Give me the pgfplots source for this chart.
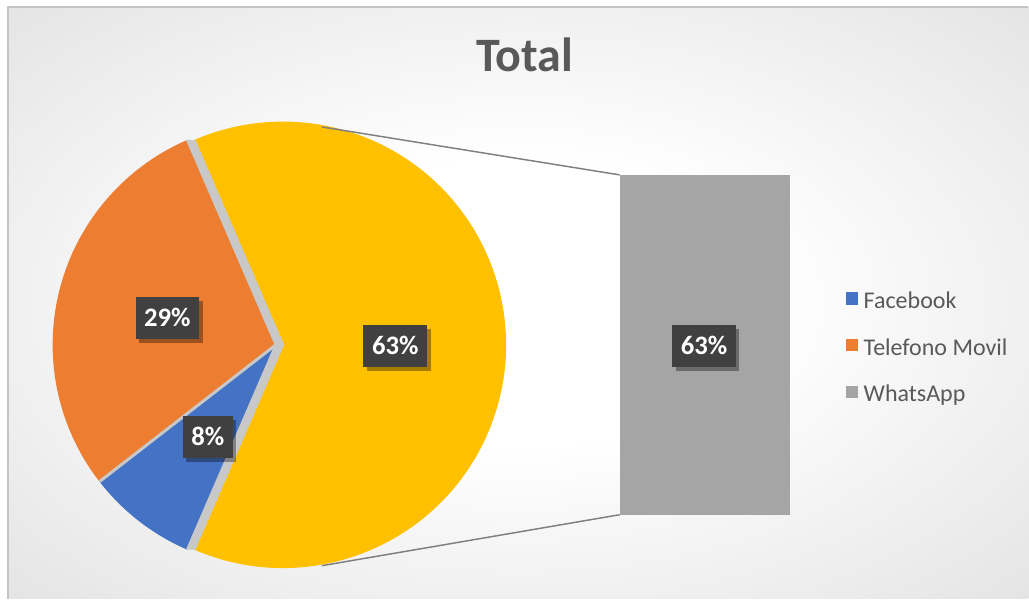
\documentclass[border=0pt]{standalone}
\usepackage{pgfplots}
\pgfplotsset{compat=1.18}
\usepackage{pgfplotstable}
\usepackage{fontspec}
\setmainfont{Carlito}
\usetikzlibrary{shadows}
\definecolor{cBlue}{HTML}{4472C4}
\definecolor{cOrange}{HTML}{ED7D31}
\definecolor{cGray}{HTML}{A5A5A5}
\definecolor{cYellow}{HTML}{FFC000}
\definecolor{cText}{HTML}{595959}
\definecolor{cLabel}{HTML}{404040}
\definecolor{cSep}{HTML}{C8C8C8}
\definecolor{cFrame}{HTML}{C4C4C4}
\definecolor{cConn}{HTML}{7F7F7F}

\pgfdeclareradialshading{bgshade}{\pgfpoint{0bp}{0bp}}{color(0bp)=(white); color(12bp)=(white); color(50bp)=(black!17); color(71bp)=(black!20)}

\tikzset{lbl/.style={fill=cLabel, text=white, font=\fontsize{20}{22}\selectfont\bfseries,
    minimum height=31.5pt, inner xsep=6.5pt, inner ysep=0pt,
    drop shadow={shadow xshift=2.5pt, shadow yshift=-3pt, opacity=0.35, fill=black}}}

\pgfplotstableread{
name share
Facebook 8
Telefono 29
WhatsApp 63
}\piedata

\begin{document}
\begin{tikzpicture}
\pgfplotstablegetelem{0}{share}\of\piedata \let\vFb\pgfplotsretval
\pgfplotstablegetelem{1}{share}\of\piedata \let\vTm\pgfplotsretval
\pgfplotstablegetelem{2}{share}\of\piedata \let\vWa\pgfplotsretval
\pgfmathsetmacro{\aYs}{-\vWa*1.8}
\pgfmathsetmacro{\aYe}{\vWa*1.8}
\pgfmathsetmacro{\aOe}{\aYe+\vTm*3.6}
\pgfmathsetmacro{\aBe}{\aOe+\vFb*3.6}
\def\R{167.5pt}
\begin{axis}[x=0.75pt, y=0.75pt, xmin=0, xmax=1029, ymin=0, ymax=599,
  hide axis, clip=false, scale only axis,
  legend cell align=left,
  legend image code/.code={\fill[#1] (0pt,0pt) rectangle (8.5pt,8.5pt); \path (13pt,0pt);},
  legend style={at={(axis cs:846,306.7)}, anchor=north west, draw=none, fill=none,
    inner sep=0pt, row sep=18.75pt, column sep=0pt,
    font=\fontsize{18}{20}\selectfont\color{cText},
    nodes={inner sep=0pt, text height=11pt, text depth=4pt}}
]
% background
\fill[white] (axis cs:0,0) rectangle (axis cs:1029,599);
\shade[shading=bgshade] (axis cs:8,0) rectangle (axis cs:1029,592);
\draw[cFrame, line width=0.8pt] (axis cs:8,0) -- (axis cs:8,592) -- (axis cs:1029,592);
% gaps between the exploded slice and the rest
\fill[cSep] (axis cs:283,254) -- ++(\aYe:\R) -- ([shift={(\aYe:\R)}]axis cs:276,254) -- (axis cs:276,254) -- ([shift={(\aBe:\R)}]axis cs:276,254) -- ([shift={(\aYs:\R)}]axis cs:283,254) -- cycle;
% pie
\fill[cYellow]
  (axis cs:283,254) -- ++(\aYs:\R) arc[start angle=\aYs, end angle=\aYe, radius=\R] -- cycle;
\fill[cOrange]
  (axis cs:276,254) -- ++(\aYe:\R) arc[start angle=\aYe, end angle=\aOe, radius=\R] -- cycle;
\fill[cBlue]
  (axis cs:276,254) -- ++(\aOe:\R) arc[start angle=\aOe, end angle=\aBe, radius=\R] -- cycle;
% slice separators
\draw[cSep, line width=1.8pt, line join=round] (axis cs:283,254) ++(\aYs:\R) -- (axis cs:283,254) -- ++(\aYe:\R);
\draw[cSep, line width=1.8pt, line join=round] (axis cs:276,254) ++(\aYe:\R) -- (axis cs:276,254) -- ++(\aBe:\R);
\draw[cSep, line width=2.25pt] (axis cs:276,254) -- ++(\aOe:\R);
% connectors
\draw[cConn, line width=1.1pt] (axis cs:322,472) -- (axis cs:620,424);
\draw[cConn, line width=1.1pt] (axis cs:322,33) -- (axis cs:620,84);
% bar of the second plot
\addplot[fill=cGray, draw=none, forget plot] coordinates {(620,84) (790,84) (790,424) (620,424)} -- cycle;
% legend
\addlegendimage{cBlue}
\addlegendentry{Facebook}
\addlegendimage{cOrange}
\addlegendentry{Telefono Movil}
\addlegendimage{cGray}
\addlegendentry{WhatsApp}
% title
\node[anchor=base, font=\fontsize{36}{42}\selectfont\bfseries, text=cText] at (axis cs:525,527) {Total};
% labels
\node[lbl] at (axis cs:167.5,281) {29\%};
\node[lbl] at (axis cs:395.5,253) {63\%};
\node[lbl] at (axis cs:208,162) {8\%};
\node[lbl] at (axis cs:704.5,253) {63\%};
\end{axis}
\end{tikzpicture}
\end{document}
